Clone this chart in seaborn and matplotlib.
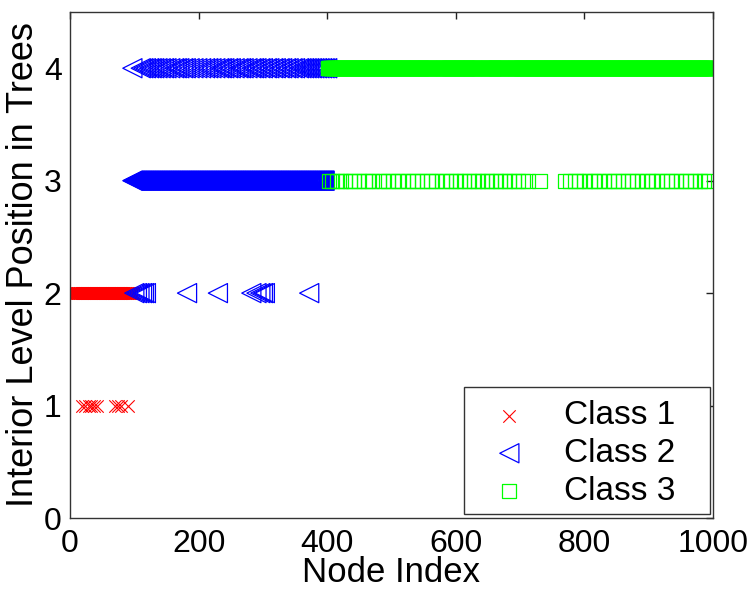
import numpy as np
import pandas as pd
import matplotlib
matplotlib.use("Agg")
import matplotlib.pyplot as plt
from matplotlib.patches import Rectangle
import seaborn as sns

# Node indices per class and tree level.
# Dense bands are given as (first, last) node spans, sparse ones as explicit lists.
class1_level2_span = (1, 99)
class1_level1_nodes = [18, 24, 29, 33, 38, 42, 70, 75, 80, 90]

class2_level4_nodes = [97, 110, 114, 118, 123, 127, 131, 136, 141, 146, 150, 156,
                       162, 166, 170, 176, 180, 186, 192, 198, 204, 210, 215, 220,
                       226, 232, 236, 240, 246, 250, 256, 262, 266, 270, 276, 282,
                       286, 290, 296, 300, 306, 310, 316, 320, 326, 330, 336, 340,
                       346, 350, 356, 360, 364, 368, 372, 376, 380, 384, 388, 392,
                       396, 400]
class2_level3_span = (97, 396)
class2_level2_nodes = [100, 104, 108, 112, 115, 118, 182, 230, 282, 290, 296, 300,
                       303, 372]

class3_level4_span = (401, 1000)
class3_level4_missing = [567, 568, 569, 639, 640, 641, 679, 680, 681]
class3_level3_nodes = [403, 408, 415, 421, 428, 436, 441, 449, 458, 463, 470, 480,
                       487, 494, 502, 510, 517, 526, 533, 540, 548, 556, 561, 569,
                       578, 585, 592, 600, 606, 613, 620, 628, 634, 641, 648, 655,
                       662, 669, 676, 683, 690, 697, 704, 712, 730,
                       770, 778, 786, 792, 800, 808, 815, 822, 830, 838, 846, 852,
                       860, 868, 874, 882, 890, 898, 905, 912, 920, 928, 935, 942,
                       950, 958, 965, 972, 980, 986, 992]

x_ticks = [0, 200, 400, 600, 800, 1000]
y_ticks = [0, 1, 2, 3, 4]
class_names = ["Class 1", "Class 2", "Class 3"]


def span_nodes(span, missing=()):
    first, last = span
    skip = set(missing)
    return [n for n in range(first, last + 1) if n not in skip]


def frame(nodes, level):
    return pd.DataFrame({"node": nodes, "level": [level] * len(nodes)})


df1 = pd.concat([frame(span_nodes(class1_level2_span), 2),
                 frame(class1_level1_nodes, 1)], ignore_index=True)
df2 = pd.concat([frame(class2_level4_nodes, 4),
                 frame(span_nodes(class2_level3_span), 3),
                 frame(class2_level2_nodes, 2)], ignore_index=True)
df3 = pd.concat([frame(span_nodes(class3_level4_span, class3_level4_missing), 4),
                 frame(class3_level3_nodes, 3)], ignore_index=True)

sns.set_style("white")
plt.rcParams["font.family"] = ["Liberation Sans", "DejaVu Sans"]
plt.rcParams["text.color"] = "black"
plt.rcParams["axes.labelcolor"] = "black"

fig = plt.figure(figsize=(7.5, 5.89), dpi=100)
ax = fig.add_axes([70 / 750, 1 - 518 / 589, 643 / 750, 506 / 589])

sns.scatterplot(data=df1, x="node", y="level", marker="x", s=80,
                color="#ff0000", linewidth=0.8, ax=ax, label=class_names[0])
sns.scatterplot(data=df2, x="node", y="level", marker="<", s=190,
                facecolors="none", edgecolor="#0000ff", linewidth=0.9,
                ax=ax, label=class_names[1])
sns.scatterplot(data=df3, x="node", y="level", marker="s", s=105,
                facecolors="none", edgecolor="#00ff00", linewidth=0.9,
                ax=ax, label=class_names[2])

ax.set_xlim(0, 1000)
ax.set_ylim(0, 4.5)
ax.set_xticks(x_ticks)
ax.set_yticks(y_ticks)
ax.tick_params(direction="in", length=5, width=1, top=True, right=True,
               labelsize=23, colors="#222222", labelcolor="black")
ax.tick_params(axis="x", pad=8)
ax.tick_params(axis="y", pad=6)
for sp in ax.spines.values():
    sp.set_color("#333333")
    sp.set_linewidth(1.0)

ax.set_xlabel("Node Index", fontsize=25, labelpad=-2)
ax.set_ylabel("Interior Level Position in Trees", fontsize=26, labelpad=2)

# Legend box drawn in axes space, legend entries on top of it
box_x0, box_y0 = (464 - 70) / 643, (518 - 514) / 506
box = Rectangle((box_x0, box_y0), 246 / 643, 127 / 506,
                transform=ax.transAxes, facecolor="white", edgecolor="#333333",
                linewidth=1.0, zorder=6, clip_on=False)
ax.add_patch(box)

leg = ax.legend(loc="lower left", bbox_to_anchor=(box_x0, box_y0),
                frameon=False, fontsize=24, borderpad=0.22, labelspacing=0.2,
                handlelength=2.28, handletextpad=0.5, borderaxespad=0)
leg.set_zorder(7)

fig.savefig("out.png", dpi=100)
